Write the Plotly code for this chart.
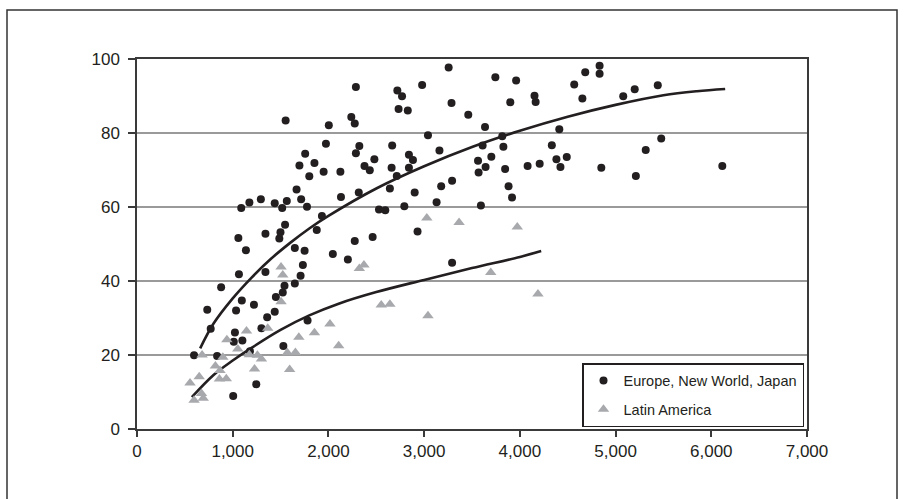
import plotly.graph_objects as go

# Europe, New World, Japan (GDP per capita, value)
eu_x = [596, 734, 770, 837, 879, 1005, 1011, 1023, 1035, 1059, 1065, 1089, 1095, 1101,
        1138, 1174, 1180, 1222, 1246, 1294, 1300, 1342, 1342, 1360, 1439, 1439, 1451,
        1487, 1499, 1517, 1523, 1529, 1541, 1547, 1553, 1565, 1649, 1649, 1667, 1697,
        1709, 1715, 1733, 1751, 1757, 1776, 1800, 1782, 1854, 1878, 1932, 1950, 1974,
        2004, 2046, 2125, 2131, 2203, 2239, 2275, 2275, 2287, 2287, 2317, 2323, 2377,
        2432, 2462, 2480, 2528, 2594, 2642, 2660, 2666, 2714, 2720, 2733, 2769, 2793,
        2829, 2841, 2841, 2883, 2901, 2931, 2979, 3040, 3130, 3160, 3178, 3256, 3286,
        3292, 3292, 3461, 3563, 3569, 3593, 3611, 3636, 3642, 3702, 3744, 3816, 3828,
        3846, 3882, 3900, 3918, 3961, 4081, 4153, 4165, 4207, 4334, 4382, 4412, 4424,
        4490, 4568, 4653, 4683, 4833, 4833, 4851, 5080, 5200, 5212, 5315, 5441, 5477,
        6115]
eu_y = [19.9, 32.2, 27.1, 19.7, 38.3, 8.9, 23.6, 26.1, 32.0, 51.6, 41.8, 59.7, 34.7, 23.9,
        48.3, 61.2, 21.0, 33.6, 12.1, 62.1, 27.2, 52.8, 42.4, 30.2, 61.0, 31.7, 35.7,
        51.5, 53.2, 59.7, 36.9, 22.4, 38.7, 55.2, 83.4, 61.6, 48.9, 39.3, 64.7, 71.2,
        41.4, 62.1, 44.3, 48.2, 74.4, 60.1, 68.3, 29.3, 71.9, 53.8, 57.6, 69.5, 77.1,
        82.1, 47.3, 69.5, 62.7, 45.8, 84.3, 82.6, 50.8, 74.5, 92.4, 63.9, 76.5, 71.1,
        69.9, 51.9, 72.9, 59.3, 59.1, 65.0, 70.6, 76.6, 68.4, 91.5, 86.5, 89.9, 60.2,
        86.1, 70.6, 74.1, 72.7, 63.9, 53.4, 93.0, 79.4, 61.3, 75.3, 65.6, 97.7, 88.1,
        67.1, 44.9, 84.9, 72.5, 69.3, 60.4, 76.6, 81.6, 70.8, 73.6, 95.1, 79.1, 76.3,
        70.3, 65.6, 88.3, 62.6, 94.2, 71.1, 90.1, 88.4, 71.7, 76.7, 72.9, 81.0, 70.8,
        73.5, 93.1, 89.3, 96.4, 98.2, 96.0, 70.6, 89.9, 91.8, 68.4, 75.4, 92.9, 78.5,
        71.1]

# Latin America
la_x = [554, 596, 650, 680, 674, 692, 819, 861, 867, 897, 939, 933, 1053, 1144, 1174,
        1228, 1258, 1300, 1366, 1505, 1523, 1505, 1571, 1595, 1655, 1691, 1854, 2016,
        2107, 2323, 2371, 2552, 2642, 3028, 3040, 3365, 3696, 3973, 4189]
la_y = [12.4, 7.8, 14.1, 20.0, 9.6, 8.3, 17.0, 13.5, 15.8, 19.4, 24.1, 13.6, 21.6, 26.5,
        20.1, 16.2, 19.9, 18.9, 27.2, 43.8, 41.6, 34.4, 20.6, 16.1, 20.7, 24.8, 26.0,
        28.4, 22.5, 43.4, 44.3, 33.5, 33.7, 57.0, 30.6, 55.8, 42.3, 54.6, 36.5]

# Trend curves
eu_trend_x = [660, 800, 1000, 1200, 1400, 1600, 1800, 2000, 2500, 3000, 3500, 4000,
              4500, 5000, 5500, 5850, 6145]
eu_trend_y = [21.8, 28.5, 35.3, 41.0, 46.0, 50.3, 54.2, 57.6, 65.0, 71.0, 76.2, 80.6,
              84.4, 87.6, 90.2, 91.3, 91.9]
la_trend_x = [573, 800, 1000, 1200, 1500, 1800, 2100, 2500, 3000, 3500, 4000, 4223]
la_trend_y = [8.6, 14.6, 18.5, 22.0, 26.8, 30.7, 33.8, 37.0, 40.3, 43.5, 46.5, 48.1]

x_ticks = [0, 1000, 2000, 3000, 4000, 5000, 6000, 7000]
x_tick_text = ["0", "1,000", "2,000", "3,000", "4,000", "5,000", "6,000", "7,000"]
y_ticks = [0, 20, 40, 60, 80, 100]

FONT = "Liberation Sans, Arial, sans-serif"
BLACK = "#231f20"
GRAY = "#a7a9ac"

fig = go.Figure()
fig.add_trace(go.Scatter(x=eu_trend_x, y=eu_trend_y, mode="lines",
                         line=dict(color=BLACK, width=2.6, shape="spline"),
                         showlegend=False, hoverinfo="skip"))
fig.add_trace(go.Scatter(x=la_trend_x, y=la_trend_y, mode="lines",
                         line=dict(color=BLACK, width=2.6, shape="spline"),
                         showlegend=False, hoverinfo="skip"))
fig.add_trace(go.Scatter(x=eu_x, y=eu_y, mode="markers", name="Europe, New World, Japan",
                         legendgroup="a",
                         marker=dict(symbol="circle", size=8, color=BLACK)))
fig.add_trace(go.Scatter(x=la_x, y=la_y, mode="markers", name="Latin America",
                         legendgroup="b",
                         marker=dict(symbol="triangle-up", size=10, color=GRAY)))

L, R, T, B = 137, 97, 59, 70
W, H = 904, 499
pw = W - L - R
ph = H - T - B

def px_x(p):
    return (p - L) / pw

def px_y(p):
    return (H - B - p) / ph

fig.add_shape(type="rect", xref="paper", yref="paper",
              x0=px_x(7), x1=px_x(897), y0=px_y(510), y1=px_y(10),
              line=dict(color="#333333", width=1.5), fillcolor="rgba(0,0,0,0)",
              layer="below")

fig.update_layout(
    width=W, height=H,
    margin=dict(l=L, r=R, t=T, b=B),
    paper_bgcolor="white", plot_bgcolor="white",
    font=dict(family=FONT, color="#231f20", size=17),
    showlegend=True,
    legend=dict(x=px_x(582), y=px_y(363), xanchor="left", yanchor="top",
                bgcolor="white", bordercolor="#231f20", borderwidth=1.5,
                font=dict(family=FONT, size=14.5, color="#231f20"),
                traceorder="grouped", tracegroupgap=7,
                itemwidth=30),
    xaxis=dict(range=[0, 7000], tickvals=x_ticks, ticktext=x_tick_text,
               showgrid=False, zeroline=False, showline=True, mirror=True,
               linecolor="#3a3a3a", linewidth=1.5,
               ticks="outside", ticklen=6, tickwidth=1.5, tickcolor="#3a3a3a",
               tickfont=dict(family=FONT, size=17)),
    yaxis=dict(range=[0, 100], tickvals=y_ticks,
               showgrid=True, gridcolor="#9a9a9a", gridwidth=1.5,
               zeroline=False, showline=True, mirror=True,
               linecolor="#3a3a3a", linewidth=1.5,
               ticks="outside", ticklen=7, tickwidth=1.5, tickcolor="#3a3a3a",
               ticklabelstandoff=5,
               tickfont=dict(family=FONT, size=17)),
)

fig.write_html("out.html", config={"displayModeBar": False},
               post_script="document.body.style.margin='0';document.body.style.padding='0';")
